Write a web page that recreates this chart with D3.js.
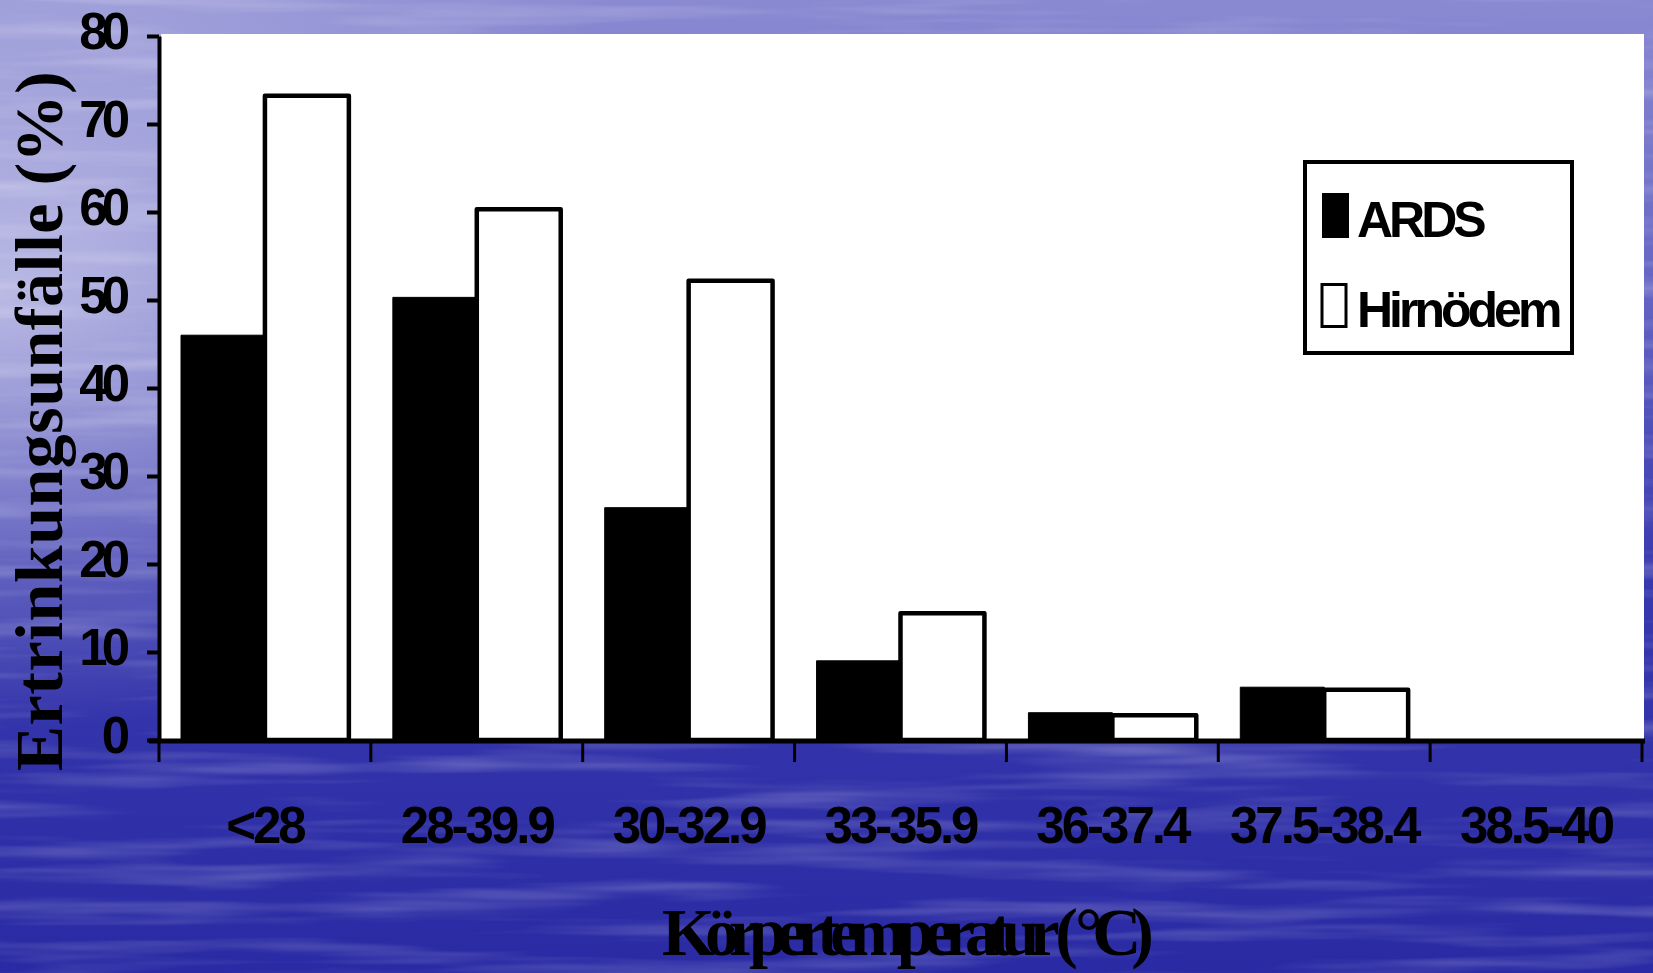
<!DOCTYPE html>
<html>
<head>
<meta charset="utf-8">
<script src="https://cdn.jsdelivr.net/npm/d3@7"></script>
<style>
  body { margin: 0; background: #2a2aa5; }
  svg { display: block; }
</style>
</head>
<body>
<div id="chart"></div>
<script>
// Values
const categories = ["<28", "28-39.9", "30-32.9", "33-35.9", "36-37.4", "37.5-38.4", "38.5-40"];
const seriesNames = ["ARDS", "Hirnödem"];
const ardsValues = [46.0, 50.3, 26.4, 9.0, 3.1, 6.0, 0];
const hirnoedemValues = [73.2, 60.3, 52.2, 14.4, 2.8, 5.7, 0];
const yTicks = [0, 10, 20, 30, 40, 50, 60, 70, 80];

const width = 1653;
const height = 973;
const plot = { left: 159, right: 1642, top: 36, bottom: 740 };

const sansFont = "'Liberation Sans', Arial, sans-serif";
const serifFont = "'Liberation Serif', 'Times New Roman', serif";

const rows = categories.map((c, i) => ({
  category: c,
  values: [
    { key: "ARDS", value: ardsValues[i] },
    { key: "Hirnödem", value: hirnoedemValues[i] },
  ],
}));

const svg = d3
  .select("#chart")
  .append("svg")
  .attr("width", width)
  .attr("height", height);

// --- background: blue "water" slide ---
const defs = svg.append("defs");

const bg = defs
  .append("linearGradient")
  .attr("id", "bg")
  .attr("x1", 0).attr("y1", 0).attr("x2", 0).attr("y2", 1);
[
  ["0%", "#8a8ad2"],
  ["30%", "#6464c4"],
  ["60%", "#3838ae"],
  ["100%", "#2a2aa4"],
].forEach(([o, c]) => bg.append("stop").attr("offset", o).attr("stop-color", c));

const glow = defs
  .append("radialGradient")
  .attr("id", "glow")
  .attr("cx", 0).attr("cy", 0.3).attr("r", 0.45);
glow.append("stop").attr("offset", "0%").attr("stop-color", "#ffffff").attr("stop-opacity", 0.55);
glow.append("stop").attr("offset", "100%").attr("stop-color", "#ffffff").attr("stop-opacity", 0);

const water = defs.append("filter").attr("id", "water")
  .attr("x", 0).attr("y", 0).attr("width", 1).attr("height", 1);
water
  .append("feTurbulence")
  .attr("type", "fractalNoise")
  .attr("baseFrequency", "0.003 0.05")
  .attr("numOctaves", 3)
  .attr("seed", 7);
water
  .append("feColorMatrix")
  .attr("type", "matrix")
  .attr("values", "0 0 0 0 1  0 0 0 0 1  0 0 0 0 1  0 0 0 1.6 -0.75");

svg.append("rect").attr("width", width).attr("height", height).attr("fill", "url(#bg)");
svg.append("rect").attr("width", width).attr("height", height).attr("fill", "url(#glow)");
svg
  .append("rect")
  .attr("width", width)
  .attr("height", height)
  .attr("filter", "url(#water)")
  .attr("opacity", 0.35);

// --- scales ---
const x0 = d3
  .scaleBand()
  .domain(categories)
  .range([plot.left, plot.right])
  .padding(0);

const x1 = d3
  .scaleBand()
  .domain(seriesNames)
  .range([22, x0.bandwidth() - 22])
  .padding(0);

const y = d3.scaleLinear().domain([0, 80]).range([plot.bottom, plot.top]);

// white plot area
svg
  .append("rect")
  .attr("x", plot.left + 2)
  .attr("y", y(80) - 2)
  .attr("width", plot.right - plot.left)
  .attr("height", plot.bottom - y(80) + 2)
  .attr("fill", "#ffffff");

// --- bars ---
const groups = svg
  .selectAll(".group")
  .data(rows)
  .enter()
  .append("g")
  .attr("class", "group")
  .attr("transform", (d) => `translate(${x0(d.category)},0)`);

groups
  .selectAll("rect")
  .data((d) => d.values.filter((v) => v.value > 0))
  .enter()
  .append("rect")
  .attr("x", (d) => x1(d.key))
  .attr("y", (d) => y(d.value))
  .attr("width", x1.bandwidth())
  .attr("height", (d) => y(0) - y(d.value))
  .attr("fill", (d) => (d.key === "ARDS" ? "#000000" : "#ffffff"))
  .attr("stroke", "#000000")
  .attr("stroke-width", (d) => (d.key === "ARDS" ? 1 : 4.5))
  .attr("stroke-linejoin", "round");

// --- y axis ---
const yAxis = svg
  .append("g")
  .attr("transform", `translate(${plot.left},0)`)
  .call(d3.axisLeft(y).tickValues(yTicks).tickSize(12).tickSizeOuter(0).tickPadding(23));

yAxis.select(".domain").attr("stroke", "#000").attr("stroke-width", 4);
yAxis.selectAll(".tick line").attr("stroke", "#000").attr("stroke-width", 4);
yAxis
  .selectAll(".tick text")
  .attr("dy", "0.24em")
  .attr("fill", "#000")
  .style("font-family", sansFont)
  .style("font-weight", "bold")
  .style("font-size", "51px")
  .style("letter-spacing", "-6px");

// --- x axis: labels centred, ticks on the category borders ---
const xAxis = svg
  .append("g")
  .attr("transform", `translate(0,${plot.bottom + 1})`)
  .call(d3.axisBottom(x0).tickSize(0).tickPadding(66));

xAxis.select(".domain").remove();
xAxis
  .selectAll(".tick text")
  .attr("fill", "#000")
  .style("font-family", sansFont)
  .style("font-weight", "bold")
  .style("font-size", "51px")
  .style("letter-spacing", "-3px");

xAxis
  .append("line")
  .attr("x1", plot.left - 10)
  .attr("x2", plot.right + 3)
  .attr("y1", 0)
  .attr("y2", 0)
  .attr("stroke", "#000")
  .attr("stroke-width", 5);

const borders = categories.map((c) => x0(c)).concat([x0.range()[1]]);
xAxis
  .selectAll(".border-tick")
  .data(borders)
  .enter()
  .append("line")
  .attr("class", "border-tick")
  .attr("x1", (d) => d)
  .attr("x2", (d) => d)
  .attr("y1", 0)
  .attr("y2", 21)
  .attr("stroke", "#000")
  .attr("stroke-width", 3);

// --- axis titles ---
svg
  .append("text")
  .attr("transform", "translate(62,421) rotate(-90)")
  .attr("text-anchor", "middle")
  .style("font-family", serifFont)
  .style("font-weight", "bold")
  .style("font-size", "68px")
  .style("letter-spacing", "0.5px")
  .text("Ertrinkungsunfälle (%)");

svg
  .append("text")
  .attr("x", 903)
  .attr("y", 955)
  .attr("text-anchor", "middle")
  .style("font-family", serifFont)
  .style("font-weight", "bold")
  .style("font-size", "68px")
  .style("letter-spacing", "-10px")
  .text("Körpertemperatur ( °C)");

// --- legend ---
const legend = svg.append("g").attr("transform", "translate(1305,162)");

legend
  .append("rect")
  .attr("width", 267)
  .attr("height", 191)
  .attr("fill", "#ffffff")
  .attr("stroke", "#000")
  .attr("stroke-width", 4);

const legendItems = legend
  .selectAll(".item")
  .data(seriesNames)
  .enter()
  .append("g")
  .attr("class", "item")
  .attr("transform", (d, i) => `translate(0,${31 + i * 90})`);

legendItems
  .append("rect")
  .attr("x", 17)
  .attr("y", (d, i) => (i === 0 ? 0 : 1.5))
  .attr("width", (d, i) => (i === 0 ? 27 : 24))
  .attr("height", (d, i) => (i === 0 ? 45 : 42))
  .attr("fill", (d, i) => (i === 0 ? "#000" : "#fff"))
  .attr("stroke", "#000")
  .attr("stroke-width", (d, i) => (i === 0 ? 0 : 3));

legendItems
  .append("text")
  .attr("x", 52)
  .attr("y", 44)
  .style("font-family", sansFont)
  .style("font-weight", "bold")
  .style("font-size", "50px")
  .style("letter-spacing", "-4px")
  .text((d) => d);
</script>
</body>
</html>
